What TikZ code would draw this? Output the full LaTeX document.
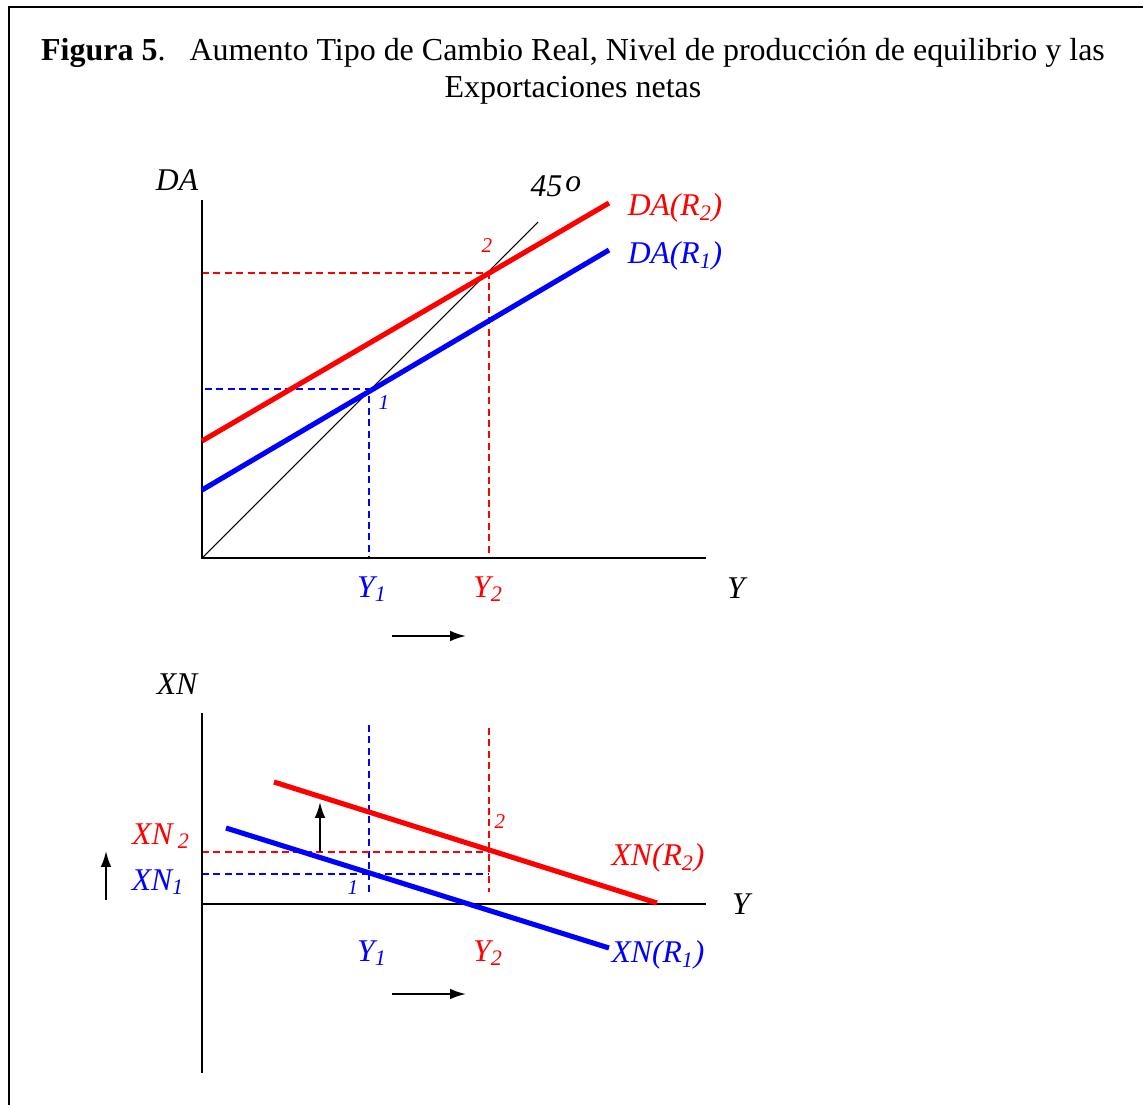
\documentclass[tikz,border=0pt]{standalone}
\usepackage{fontspec}
\setmainfont{Liberation Serif}
\usetikzlibrary{arrows.meta}

\tikzset{
  frame/.style={line width=1.2pt},
  axis/.style={line width=1.1pt},
  curve/.style={line width=2.9pt},
  guide/.style={line width=0.8pt, dash pattern=on 4pt off 2.5pt},
  movearrow/.style={line width=1.1pt, -{Latex[length=9pt,width=6pt]}},
  lbl/.style={font=\fontsize{18}{22}\selectfont\itshape, inner sep=0pt},
  pt/.style={font=\fontsize{12}{14}\selectfont\itshape, inner sep=0pt}
}

\begin{document}
\begin{tikzpicture}[x=0.02cm, y=-0.02cm]

    \useasboundingbox (0,0) rectangle (1143,1105);

    % ==========================================
    % FRAME AND TITLE
    % ==========================================
    \draw[frame] (9,1105) -- (9,7) -- (1143,7);

    \node[align=center, font=\fontsize{18.2}{21}\selectfont, inner sep=0pt] (title) at (573,71)
        {{\bfseries Figura 5}.\ \ \ Aumento Tipo de Cambio Real, Nivel de producción de equilibrio y las\\
         Exportaciones netas};

    % ==========================================
    % TOP GRAPH: Demanda agregada
    % ==========================================

    % key points
    \coordinate (O1) at (202,558);
    \coordinate (E1) at (369,391);
    \coordinate (E2) at (487,273);

    % Dashed guides (drawn first to stay in background)
    \draw[guide, blue] (205,389) -- (369,389) -- (369,558);
    \draw[guide, red] (202,273) -- (489,273) -- (489,558);

    % Axes
    \draw[axis] (202,200) -- (O1) -- (706,558);
    \node[lbl] (daAx) at (177,180) {DA};
    \node[lbl] (yAx) at (736,588) {Y};

    % 45 degree line
    \draw[line width=0.6pt] (O1) -- (538,222);
    \node[lbl] (deg) at (556,186) {45\kern0.1em\raisebox{0.3ex}{o}};

    % DA curves
    \draw[curve, red] (202,441) -- (609,203);
    \draw[curve, blue] (202,490) -- (609,250);
    \node[lbl, red] (daR2) at (675,208) {DA(R\textsubscript{2})};
    \node[lbl, blue] (daR1) at (675,256) {DA(R\textsubscript{1})};

    % Equilibrium points
    \node[pt, blue] (n1) at (384,403) {1};
    \node[pt, red] (n2) at (487,246) {2};

    % Output labels
    \node[lbl, blue] (y1a) at (372,589) {Y\textsubscript{1}};
    \node[lbl, red] (y2a) at (488,589) {Y\textsubscript{2}};
    \draw[movearrow] (392,636) -- (466,636);

    % ==========================================
    % BOTTOM GRAPH: Exportaciones netas
    % ==========================================

    \coordinate (O2) at (202,904);

    % Dashed guides
    \draw[guide, blue] (369,725) -- (369,894);
    \draw[guide, red] (489,728) -- (489,892);
    \draw[guide, blue] (202,874) -- (489,874);
    \draw[guide, red] (202,852) -- (489,852);

    % Axes
    \draw[axis] (202,713) -- (202,1073);
    \draw[axis] (O2) -- (706,904);
    \node[lbl] (xnAx) at (177,684) {XN};
    \node[lbl] (yBx) at (741,904) {Y};

    % XN curves
    \draw[curve, red] (274,782) -- (657,903);
    \draw[curve, blue] (226,828) -- (609,948);
    \node[lbl, red] (xnR2) at (658,858) {XN(R\textsubscript{2})};
    \node[lbl, blue] (xnR1) at (658,955) {XN(R\textsubscript{1})};

    % Points
    \node[pt, blue] (m1) at (353,888) {1};
    \node[pt, red] (m2) at (500,822) {2};

    % Level labels
    \node[lbl, red] (xn2) at (161,836) {XN\,\textsubscript{2}};
    \node[lbl, blue] (xn1) at (158,882) {XN\textsubscript{1}};

    % Shift arrows
    \draw[movearrow] (320,852) -- (320,802);
    \draw[movearrow] (106,900) -- (106,851);

    % Output labels
    \node[lbl, blue] (y1b) at (372,953) {Y\textsubscript{1}};
    \node[lbl, red] (y2b) at (488,953) {Y\textsubscript{2}};
    \draw[movearrow] (392,994) -- (466,994);

\end{tikzpicture}
\end{document}
